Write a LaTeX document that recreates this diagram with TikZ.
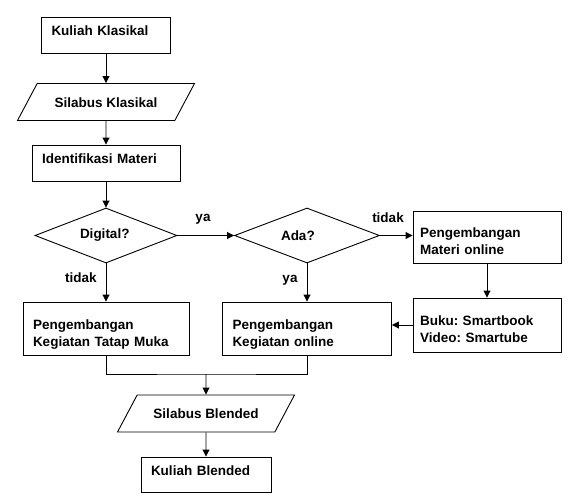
\documentclass[tikz,border=0pt]{standalone}
\usepackage{fontspec}
\setmainfont{Liberation Sans}
\frenchspacing
\usetikzlibrary{shapes.geometric, arrows.meta}
\newcommand{\flowfont}{\fontsize{13.5}{17}\selectfont\bfseries}
\tikzset{
  process/.style = {
    rectangle, draw=black, line width=0.9pt, inner xsep=10pt, inner ysep=0pt,
    align=left, text depth=8pt, font=\flowfont
  },
  io/.style = {
    trapezium, trapezium left angle=62, trapezium right angle=118,
    trapezium stretches body, draw=black, line width=0.9pt,
    text height=10pt, text depth=0pt, inner ysep=13.5pt, inner xsep=0pt,
    minimum width=177pt, minimum height=37pt, font=\flowfont
  },
  decision/.style = {
    diamond, draw=black, line width=0.9pt, inner sep=0pt, aspect=2.6,
    text width=52pt, align=left, font=\flowfont
  },
  lbl/.style = { anchor=base, inner sep=0pt, font=\flowfont },
  flow/.style = { draw=black, line width=0.9pt, -{Triangle[length=7pt, width=7pt]} },
  link/.style = { draw=black, line width=0.9pt }
}

\begin{document}
\begin{tikzpicture}[x=1pt, y=-1pt]

    \useasboundingbox (0,0) rectangle (573,501);

    % ------------------------------------------------------------- Left column
    \node [process, text width=109pt, minimum height=36pt] (kk)  at (106, 35)  {Kuliah Klasikal};
    \node [io]                                             (sk)  at (106, 102) {Silabus Klasikal};
    \node [process, text width=128pt, minimum height=36pt] (idm) at (106, 163) {Identifikasi Materi};

    % ------------------------------------------------------------- Decisions
    \node [decision, minimum width=142pt, minimum height=55pt] (digital) at (106, 235.5) {Digital?};
    \node [decision, minimum width=145pt, minimum height=55pt] (ada)     at (307, 235.5) {Ada?};

    % ------------------------------------------------------------- Online material
    \node [process, inner xsep=7pt, text width=134pt, minimum height=52pt] (pmo)  at (487, 237) {Pengembangan\\Materi online};
    \node [process, inner xsep=7pt, text width=134pt, minimum height=54pt] (buku) at (487, 325) {Buku: Smartbook\\Video: Smartube};

    % ------------------------------------------------------------- Activities
    \node [process, text width=146pt, minimum height=53pt] (ptm) at (106, 328.5) {Pengembangan\\Kegiatan Tatap Muka};
    \node [process, text width=149pt, minimum height=53pt] (pko) at (307, 328.5) {Pengembangan\\Kegiatan online};

    % ------------------------------------------------------------- Result
    \coordinate (merge) at (206, 374);
    \node [io]                                             (sb) at (206, 413.5) {Silabus Blended};
    \node [process, text width=110pt, minimum height=35pt] (kb) at (206, 474.5) {Kuliah Blended};

    % ------------------------------------------------------------- Labels
    \node [lbl] (ya_digital)    at (203, 221)   {ya};
    \node [lbl] (tidak_digital) at (81, 282.5)  {tidak};
    \node [lbl] (tidak_ada)     at (388, 222.5) {tidak};
    \node [lbl] (ya_ada)        at (290, 282.5) {ya};

    % ------------------------------------------------------------- Connectors
    \draw [flow] (kk)  -- (sk);
    \draw [flow] (sk)  -- (idm);
    \draw [flow] (idm) -- (digital);

    \draw [flow] (digital) -- (ptm);
    \draw [flow] (digital) -- (ada);
    \draw [flow] (ada.east) -- (ada.east -| pmo.west);
    \draw [flow] (ada) -- (pko);

    \draw [flow] (pmo) -- (buku);
    \draw [flow] (buku.west) -- (buku.west -| pko.east);

    \draw [link] (ptm) |- (merge) -| (pko);
    \draw [flow] (merge) -- (sb);
    \draw [flow] (sb) -- (kb);

\end{tikzpicture}
\end{document}
